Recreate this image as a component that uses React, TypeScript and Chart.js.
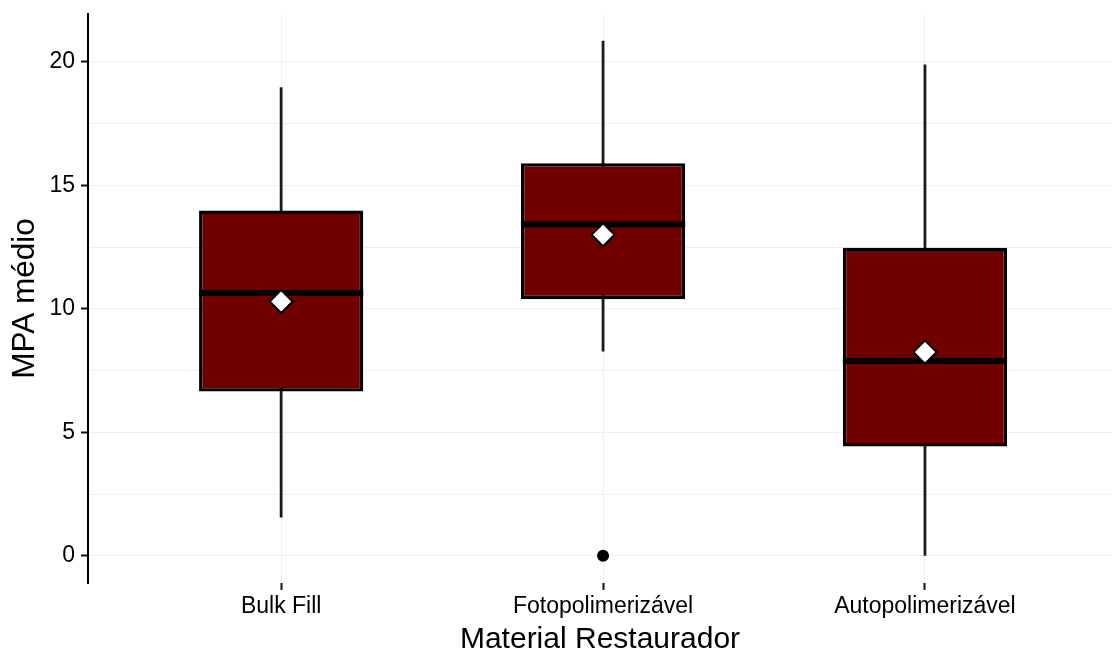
import React, { useEffect, useRef } from "react";
import { Chart, registerables } from "chart.js";

Chart.register(...registerables);

// ---- data ----
const categories = ["Bulk Fill", "Fotopolimerizável", "Autopolimerizável"];
const xPositions = [1, 2, 3];
const whiskerLow = [1.55, 8.27, 0.0];
const q1Values = [6.65, 10.39, 4.43];
const medianValues = [10.64, 13.43, 7.89];
const q3Values = [13.98, 15.9, 12.48];
const whiskerHigh = [18.97, 20.86, 19.9];
const meanValues = [10.3, 13.0, 8.25];
const outlierCategory = [2];
const outlierValues = [0];
const yTickValues = [0, 2.5, 5, 7.5, 10, 12.5, 15, 17.5, 20];
const yTickLabels = ["0", "", "5", "", "10", "", "15", "", "20"];
const xTitle = "Material Restaurador";
const yTitle = "MPA médio";

const BOX_FRACTION = 0.51;
const FONT = "'Liberation Sans', Arial, sans-serif";

const zeroPadding = (scale: any) => {
  scale.paddingTop = 0;
  scale.paddingBottom = 0;
  scale.paddingLeft = 0;
  scale.paddingRight = 0;
};

export default function App() {
  const ref = useRef<HTMLCanvasElement | null>(null);

  useEffect(() => {
    if (!ref.current) return;

    const whiskerSets = categories.map((c, i) => ({
      type: "line" as const,
      label: "whisker " + c,
      data: [
        { x: xPositions[i], y: whiskerLow[i] },
        { x: xPositions[i], y: whiskerHigh[i] },
      ],
      borderColor: "#1a1a1a",
      borderWidth: 2.8,
      pointRadius: 0,
      order: 5,
    }));

    const medianSets = categories.map((c, i) => ({
      type: "line" as const,
      label: "median " + c,
      data: [
        { x: xPositions[i] - BOX_FRACTION / 2, y: medianValues[i] },
        { x: xPositions[i] + BOX_FRACTION / 2, y: medianValues[i] },
      ],
      borderColor: "#000",
      borderWidth: 6,
      pointRadius: 0,
      order: 2,
    }));

    const chart = new Chart(ref.current, {
      type: "bar",
      data: {
        datasets: [
          ...whiskerSets,
          {
            type: "bar" as const,
            label: "box",
            data: categories.map((c, i) => ({ x: xPositions[i], y: [q1Values[i], q3Values[i]] })) as any,
            backgroundColor: "#700000",
            borderColor: "#000",
            borderWidth: 3.4,
            borderSkipped: false,
            categoryPercentage: 1,
            barPercentage: BOX_FRACTION,
            order: 3,
          } as any,
          ...medianSets,
          {
            type: "line" as const,
            label: "mean",
            data: categories.map((c, i) => ({ x: xPositions[i], y: meanValues[i] })),
            showLine: false,
            pointStyle: "rectRot",
            pointRadius: 11.5,
            pointBackgroundColor: "#ffffff",
            pointBorderColor: "#000",
            pointBorderWidth: 2,
            order: 1,
          },
          {
            type: "line" as const,
            label: "outlier",
            data: outlierCategory.map((x, i) => ({ x, y: outlierValues[i] })),
            showLine: false,
            pointStyle: "circle",
            pointRadius: 6,
            pointBackgroundColor: "#000",
            pointBorderColor: "#000",
            pointBorderWidth: 0,
            order: 1,
          },
        ] as any,
      },
      options: {
        responsive: false,
        animation: false,
        devicePixelRatio: 1,
        layout: { autoPadding: false, padding: { top: 14, left: 0, right: 0, bottom: 0 } },
        plugins: {
          legend: { display: false },
          tooltip: { enabled: false },
        },
        scales: {
          x: {
            type: "linear",
            min: 0.4,
            max: 3.581,
            offset: false,
            afterFit: (scale: any) => {
              scale.height = 650 - 583;
              zeroPadding(scale);
            },
            afterBuildTicks: (scale: any) => {
              scale.ticks = xPositions.map((v) => ({ value: v }));
            },
            border: { display: false },
            grid: {
              offset: false,
              color: "#efefef",
              lineWidth: 1,
              drawTicks: true,
              tickLength: 7,
              tickColor: "#111",
              tickWidth: 2,
            },
            ticks: {
              padding: 3,
              color: "#000",
              font: { family: FONT, size: 23 },
              callback: (v: any) => {
                const idx = xPositions.indexOf(Number(v));
                return idx >= 0 ? categories[idx] : "";
              },
              maxRotation: 0,
              autoSkip: false,
            },
            title: {
              display: true,
              text: xTitle,
              color: "#000",
              font: { family: FONT, size: 30, lineHeight: 0.7 },
              padding: { top: 0, bottom: 0 },
            },
          },
          y: {
            type: "linear",
            min: -1.1,
            max: 21.94,
            afterFit: (scale: any) => {
              scale.width = 88;
              zeroPadding(scale);
            },
            afterBuildTicks: (scale: any) => {
              scale.ticks = yTickValues.map((v) => ({ value: v }));
            },
            border: { display: true, color: "#000", width: 2 },
            grid: {
              color: "#efefef",
              lineWidth: 1,
              drawTicks: true,
              tickLength: 7,
              tickWidth: 2,
              tickColor: (ctx: any) =>
                ctx.tick && yTickLabels[yTickValues.indexOf(ctx.tick.value)] !== "" ? "#111" : "rgba(0,0,0,0)",
            },
            ticks: {
              padding: 6,
              color: "#000",
              font: { family: FONT, size: 23 },
              callback: (v: any) => {
                const idx = yTickValues.indexOf(Number(v));
                return idx >= 0 ? yTickLabels[idx] : "";
              },
              autoSkip: false,
            },
            title: {
              display: true,
              text: yTitle,
              color: "#000",
              font: { family: FONT, size: 31.5, lineHeight: 1 },
              padding: { top: 10, bottom: 0 },
            },
          },
        },
      } as any,
    });

    return () => chart.destroy();
  }, []);

  return (
    <div style={{ position: "fixed", left: 0, top: 0, width: 1112, height: 650, background: "#fff" }}>
      <canvas ref={ref} width={1112} height={650} style={{ display: "block", width: 1112, height: 650 }} />
    </div>
  );
}
